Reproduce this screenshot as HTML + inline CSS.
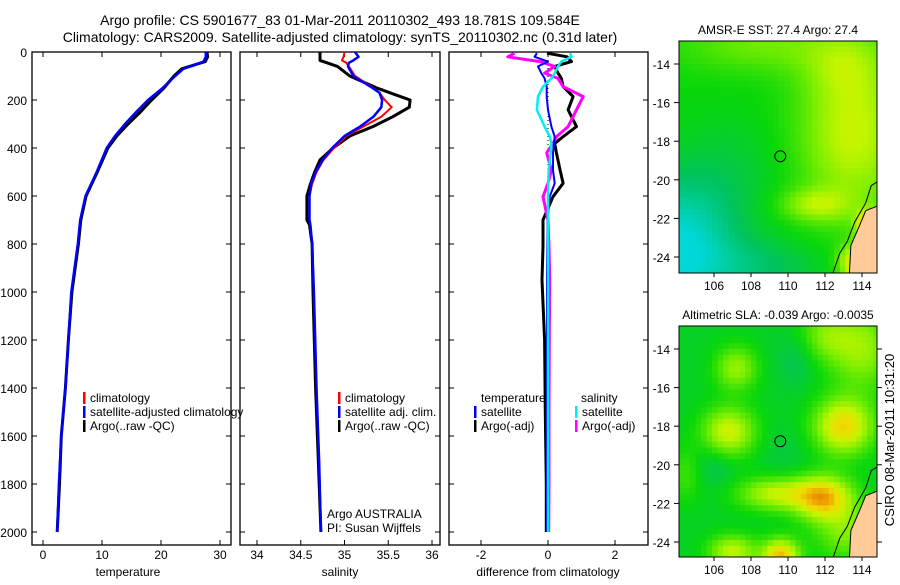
<!DOCTYPE html>
<html><head><meta charset="utf-8"><style>
body{margin:0;background:#fff;width:900px;height:580px;overflow:hidden}
svg{font-family:"Liberation Sans",sans-serif}
</style></head><body>
<svg id="fig" width="900" height="580" viewBox="0 0 900 580">
<defs>
<clipPath id="clipTop"><rect x="679" y="41" width="198" height="232"/></clipPath>
<clipPath id="clipBot"><rect x="679" y="326" width="198" height="231"/></clipPath>
</defs>
<text x="340" y="25" text-anchor="middle" font-size="14">Argo profile: CS 5901677_83 01-Mar-2011 20110302_493 18.781S 109.584E</text>
<text x="340" y="42" text-anchor="middle" font-size="14">Climatology: CARS2009. Satellite-adjusted climatology: synTS_20110302.nc (0.31d later)</text>
<g id="plots"></g>
<text transform="translate(894,440) rotate(-90)" text-anchor="middle" font-size="13">CSIRO 08-Mar-2011 10:31:20</text>
</svg>
<script>
const NS='http://www.w3.org/2000/svg';
const root=document.getElementById('plots');
function mk(tag,attrs,parent){const e=document.createElementNS(NS,tag);for(const k in attrs)e.setAttribute(k,attrs[k]);(parent||root).appendChild(e);return e;}
function txt(x,y,s,size,anchor,parent){const t=mk('text',{x:x,y:y,'font-size':size||12,'text-anchor':anchor||'start'},parent);t.textContent=s;return t;}

// ---- data ----
const depthTicks=[0,200,400,600,800,1000,1200,1400,1600,1800,2000];
const tempTicks=[0,10,20,30];
const salTicks=[34,34.5,35,35.5,36];
const diffTicks=[-2,0,2];

const tDepth=[0,20,40,55,70,100,150,200,250,300,350,400,500,600,700,800,1000,1200,1400,1600,1800,2000];
const tArgo=[27.8,27.9,27.5,25.5,23.5,22.2,20.5,18.4,16.5,14.4,12.5,11,9.2,7.3,6.4,6,4.9,4.3,3.8,3.1,2.8,2.4];
const tClim=[27.7,27.7,27.3,25.6,23.7,22.3,20.2,18,15.9,14,12.2,10.9,9.1,7.2,6.3,5.9,4.9,4.3,3.8,3.1,2.8,2.4];
const tSat=[27.6,27.6,27.2,25.6,23.8,22.4,20.3,17.8,15.8,13.9,12.2,10.8,9.1,7.2,6.3,5.9,4.8,4.3,3.8,3.1,2.7,2.4];

const sDepth=[0,20,35,45,60,100,150,170,200,230,270,310,350,400,450,500,550,600,700,720,800,1000,1400,1700,2000];
const sArgo=[34.72,34.72,34.72,34.8,34.92,35.06,35.37,35.52,35.75,35.74,35.55,35.33,35.06,34.87,34.72,34.66,34.61,34.57,34.57,34.6,34.63,34.64,34.67,34.7,34.73];
const sClim=[35.0,34.99,34.97,35.02,35.05,35.12,35.33,35.4,35.46,35.54,35.42,35.22,35.02,34.88,34.76,34.68,34.63,34.6,34.6,34.61,34.63,34.65,34.68,34.71,34.73];
const sSat=[35.12,35.16,35.1,35.05,35.04,35.1,35.32,35.4,35.43,35.42,35.33,35.18,35.0,34.86,34.75,34.67,34.62,34.6,34.6,34.61,34.63,34.65,34.68,34.71,34.73];

const dDepth=[5,20,40,60,88,110,144,186,241,311,353,381,420,492,547,603,700,811,950,1200,1500,1800,2000];
const dTArgo=[-0.03,0.57,0.7,0.2,0.3,0.4,0.45,0.75,0.6,0.85,0.45,0.2,0.25,0.36,0.45,0.15,-0.15,-0.15,-0.18,-0.1,-0.08,-0.05,-0.05];
const dTSat=[-0.33,-0.4,0,-0.3,-0.2,-0.1,-0.04,-0.04,0.0,0.1,0.2,0.18,0.15,0.15,0.2,0.05,-0.01,-0.02,-0.03,-0.03,-0.03,-0.03,-0.03];
const dSArgo=[-1.0,-1.2,-0.24,0.2,-0.1,0.3,0.45,1.05,0.85,0.6,0.25,0.15,-0.04,0.1,0.0,-0.15,0.0,0.03,0.05,0.04,0.03,0.03,0.02];
const dSSat=[0.66,0.7,0.4,0.3,0.2,0.1,-0.15,-0.3,-0.33,-0.1,0.05,0.1,0.08,0.02,0.01,0.0,0.0,0.0,0.0,0.0,0.0,0.0,0.0];

// ---- axes ----
const yTop=52,yBot=545;
const yD=d=>52+d*0.24;
const xT=v=>43+v*5.9;
const xS=v=>257+(v-34)*87.5;
const xDf=v=>548+v*33.5;

function panel(name,x0,x1,ticks,xf,label,labelX){
  const g=mk('g',{});
  
  
  const r=mk('rect',{x:x0,y:yTop,width:x1-x0,height:yBot-yTop,fill:'none',stroke:'#000','stroke-width':1.3},g);
  
  
  depthTicks.forEach(d=>{
    mk('line',{x1:x0,x2:x0+5,y1:yD(d),y2:yD(d),stroke:'#000'},g);
    mk('line',{x1:x1,x2:x1-5,y1:yD(d),y2:yD(d),stroke:'#000'},g);
  });
  ticks.forEach(v=>{
    const x=xf(v);
    mk('line',{x1:x,x2:x,y1:yBot,y2:yBot-5,stroke:'#000'},g);
    mk('line',{x1:x,x2:x,y1:yTop,y2:yTop+5,stroke:'#000'},g);
    const t=txt(x,559,String(v),12,'middle',g);
    
    
  });
  const l=txt(labelX,576,label,12,'middle',g);
  
  
  return g;
}
const p1=panel('temperature-panel',32,231,tempTicks,xT,'temperature',128);
depthTicks.forEach(d=>{const t=txt(27,yD(d)+5,String(d),12,'end');
  
  });
const p2=panel('salinity-panel',240,440,salTicks,xS,'salinity',340);
const p3=panel('difference-panel',449,648,diffTicks,xDf,'difference from climatology',548);

function line(g,depths,vals,xf,color,w,name){
  const pts=depths.map((d,i)=>xf(vals[i]).toFixed(1)+','+yD(d).toFixed(1)).join(' ');
  const pl=mk('polyline',{points:pts,fill:'none',stroke:color,'stroke-width':w,'stroke-linejoin':'round'},g);
  
  
}
line(p1,tDepth,tClim,xT,'#f00',2,'temp-climatology-line');
line(p1,tDepth,tArgo,xT,'#000',3,'temp-argo-line');
line(p1,tDepth,tSat,xT,'#00f',2.5,'temp-satellite-line');
line(p2,sDepth,sArgo,xS,'#000',3,'sal-argo-line');
line(p2,sDepth,sClim,xS,'#f00',2,'sal-climatology-line');
line(p2,sDepth,sSat,xS,'#00f',2.5,'sal-satellite-line');
mk('line',{x1:548,x2:548,y1:yD(0),y2:yD(600),stroke:'#000','stroke-dasharray':'1,3'},p3);
line(p3,dDepth,dTArgo,xDf,'#000',3,'diff-temp-argo-line');
line(p3,dDepth,dSArgo,xDf,'#f0f',3,'diff-sal-argo-line');
line(p3,dDepth,dTSat,xDf,'#00f',2,'diff-temp-satellite-line');
line(p3,dDepth,dSSat,xDf,'#0ee',2.5,'diff-sal-satellite-line');

function legend(g,x,y,color,label){
  const e=mk('g',{},g);
  
  
  mk('rect',{x:x,y:y-10,width:2.5,height:12,fill:color},e);
  txt(x+7,y,label,12,'start',e);
}
legend(p1,83,402,'#f00','climatology');
legend(p1,83,416,'#00f','satellite-adjusted climatology');
legend(p1,83,430,'#000','Argo(..raw -QC)');
legend(p2,338,402,'#f00','climatology');
legend(p2,338,416,'#00f','satellite adj. clim.');
legend(p2,338,430,'#000','Argo(..raw -QC)');
txt(327,518,'Argo AUSTRALIA',12,'start',p2);
txt(327,532,'PI: Susan Wijffels',12,'start',p2);
txt(481,402,'temperature',12,'start',p3);
txt(581,402,'salinity',12,'start',p3);
legend(p3,474,416,'#00f','satellite');
legend(p3,474,430,'#000','Argo(-adj)');
legend(p3,575,416,'#0ee','satellite');
legend(p3,575,430,'#f0f','Argo(-adj)');

// ---- maps ----
const stops=[[0,[0,215,215]],[0.2,[0,195,95]],[0.33,[10,215,10]],[0.5,[120,238,0]],[0.62,[195,245,0]],[0.74,[240,220,0]],[0.86,[235,150,0]],[1,[180,40,0]]];
function col(v){v=Math.max(0,Math.min(1,v));for(let i=1;i<stops.length;i++){if(v<=stops[i][0]){const a=stops[i-1],b=stops[i],t=(v-a[0])/(b[0]-a[0]);return 'rgb('+a[1].map((c,k)=>Math.round(c+(b[1][k]-c)*t)).join(',')+')';}}return 'rgb(180,40,0)';}
function field(base,blobs){return (lo,la)=>{let v=base;blobs.forEach(b=>{v+=b[4]*Math.exp(-((lo-b[0])**2/(2*b[2]*b[2])+(la-b[1])**2/(2*b[3]*b[3])));});return v;};}
const sstF=field(0.33,[[113.5,-17.5,2.0,3.0,0.3],[111.5,-21.3,1.3,0.6,0.22],[108.5,-13,3,1.0,0.15],[113,-14,1.5,1.2,0.12],[104,-23.5,2.2,2.4,-0.34],[108.5,-24.5,2.5,1.0,-0.12],[107,-19.5,2,2,-0.06],[114.3,-22.4,0.4,0.5,0.55],[113.6,-24.3,0.6,0.6,0.4]]);
const slaF=field(0.29,[[107.2,-15,0.8,0.8,0.26],[106.8,-18.3,1,0.9,0.36],[113,-18,1.1,1.0,0.46],[111.9,-21.7,1.1,0.8,0.5],[109.3,-21.5,1.4,0.6,0.32],[109.6,-24.7,0.7,0.6,0.5],[107,-24.5,0.9,0.6,0.33],[114,-14,1.2,1.5,0.26],[112,-13.3,1,1,0.2],[113.2,-23.5,1.2,1,0.22],[104.5,-20.5,0.6,1,0.12],[106,-20,0.8,0.8,-0.08],[110.5,-14.5,0.8,1,-0.08],[109.8,-19.5,1,1,-0.04]]);
function map(name,top,bot,title,f,rightTicks,clip){
  const g=mk('g',{});
  
  
  const L=679,R=877,lx=lo=>714+(lo-106)*18.5,ly=la=>top+23+(-14-la)*19.3;
  const cells=mk('g',{'clip-path':'url(#'+clip+')'},g);
  const step=0.3;
  for(let lo=104.1;lo<115;lo+=step)for(let la=-12.5;la>-25.2;la-=step){
    const x=lx(lo),y=ly(la);
    mk('rect',{x:x.toFixed(1),y:y.toFixed(1),width:(step*18.5+0.6).toFixed(1),height:(step*19.3+0.6).toFixed(1),fill:col(f(lo+step/2,la-step/2))},cells);
  }
  const land=[[113.3,-25.2],[113.4,-23.4],[113.9,-22.3],[114.2,-21.6],[115,-21.3],[115,-25.2]];
  mk('polygon',{points:land.map(p=>lx(p[0])+','+ly(p[1])).join(' '),fill:'#ffcc99',stroke:'#000','stroke-width':1},cells);
  const coast=[[112.3,-25.2],[112.8,-23.8],[113.2,-23.2],[113.6,-22.2],[114.2,-21.2],[114.5,-20.3],[115,-20]];
  mk('polyline',{points:coast.map(p=>lx(p[0])+','+ly(p[1])).join(' '),fill:'none',stroke:'#000','stroke-width':1},cells);
  mk('rect',{x:L,y:top,width:R-L,height:bot-top,fill:'none',stroke:'#000','stroke-width':1},g);
  const c=mk('circle',{cx:lx(109.584),cy:ly(-18.781),r:5.5,fill:'none',stroke:'#000','stroke-width':1},g);
  
  
  [-14,-16,-18,-20,-22,-24].forEach(la=>{const y=ly(la);mk('line',{x1:L-5,x2:L,y1:y,y2:y,stroke:'#000'},g);
    if(rightTicks)mk('line',{x1:R,x2:R+5,y1:y,y2:y,stroke:'#000'},g);
    txt(L-9,y+5,String(la),12,'end',g);});
  [106,108,110,112,114].forEach(lo=>{const x=lx(lo);mk('line',{x1:x,x2:x,y1:bot,y2:bot+4,stroke:'#000'},g);txt(x,bot+17,String(lo),12,'middle',g);});
  const t=txt(778,top-7,title,12,'middle',g);
  
  
}
map('sst-map',41,273,'AMSR-E SST: 27.4 Argo: 27.4',sstF,false,'clipTop');
map('sla-map',326,557,'Altimetric SLA: -0.039 Argo: -0.0035',slaF,true,'clipBot');
</script>
</body></html>
